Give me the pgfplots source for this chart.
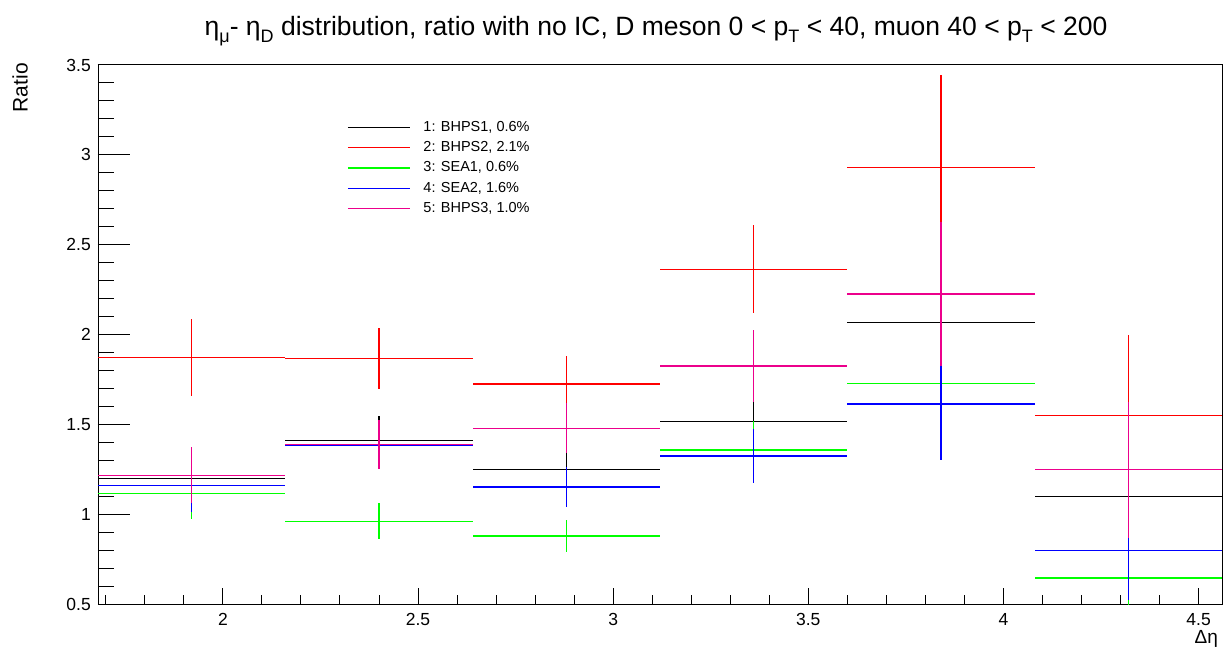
\documentclass[border=0pt]{standalone}
\usepackage{fontspec}
\setmainfont{Liberation Sans}
\usepackage{pgfplots}
\pgfplotsset{compat=1.18}
\usepackage{pgfplotstable}

% bin centre, ratio, half bin width, statistical error
\pgfplotstableread{
x    y     ex    ey
1.92 1.200 0.24 0.130
2.40 1.409 0.24 0.136
2.88 1.250 0.24 0.120
3.36 1.515 0.24 0.130
3.84 2.066 0.24 0.250
4.32 1.100 0.24 0.250
}\bhpsone
\pgfplotstableread{
x    y     ex    ey
1.92 1.871 0.24 0.215
2.40 1.867 0.24 0.170
2.88 1.724 0.24 0.156
3.36 2.363 0.24 0.245
3.84 2.930 0.24 0.514
4.32 1.550 0.24 0.447
}\bhpstwo
\pgfplotstableread{
x    y     ex    ey
1.92 1.116 0.24 0.143
2.40 0.960 0.24 0.100
2.88 0.878 0.24 0.090
3.36 1.357 0.24 0.163
3.84 1.728 0.24 0.250
4.32 0.645 0.24 0.200
}\seaone
\pgfplotstableread{
x    y     ex    ey
1.92 1.158 0.24 0.144
2.40 1.383 0.24 0.130
2.88 1.151 0.24 0.110
3.36 1.324 0.24 0.149
3.84 1.613 0.24 0.312
4.32 0.799 0.24 0.277
}\seatwo
\pgfplotstableread{
x    y     ex    ey
1.92 1.216 0.24 0.156
2.40 1.389 0.24 0.137
2.88 1.478 0.24 0.139
3.36 1.825 0.24 0.200
3.84 2.225 0.24 0.403
4.32 1.248 0.24 0.378
}\bhpsthree

\newcommand{\sub}[1]{\raisebox{-0.5ex}{\fontsize{18}{18}\selectfont #1}}

\pgfplotsset{
  histerr/.style={
    draw=none, mark=none, color=#1,
    error bars/.cd, x dir=both, x explicit, y dir=both, y explicit,
    error mark=none, error bar style={draw=#1, solid, line width=1.3pt}
  }
}

\begin{document}
\begin{tikzpicture}[x=1pt,y=1pt]
\useasboundingbox (-98,-47) rectangle (1127,604);

% frame, x ticks and the data
\begin{axis}[
  at={(0,0)}, anchor=south west,
  scale only axis, width=1124pt, height=539pt,
  xmin=1.68, xmax=4.56, ymin=0.5, ymax=3.5,
  axis line style={black, line width=1pt},
  tick align=inside,
  xtick={2,2.5,3,3.5,4,4.5},
  minor xtick={1.7,1.8,...,4.55},
  ytick=\empty,
  xtick pos=left,
  major tick length=16pt, minor tick length=9pt,
  tick style={black, line width=1pt},
  /pgf/number format/assume math mode=true,
  xticklabel style={inner sep=0pt, anchor=north, yshift=-9pt,
    font=\fontsize{17.5}{20}\selectfont},
  legend style={draw=none, fill=none,
    at={(rel axis cs:0.2215,0.898)}, anchor=north west,
    inner sep=0pt, row sep=6.4pt, column sep=13pt,
    nodes={inner sep=0pt, text height=11pt, text depth=3pt},
    font=\fontsize{14.5}{17}\selectfont},
  legend cell align=left,
]
\addplot[histerr=black]   table[x=x, y=y, x error=ex, y error=ey] {\bhpsone};
\addplot[histerr=red]     table[x=x, y=y, x error=ex, y error=ey] {\bhpstwo};
\addplot[histerr=green]   table[x=x, y=y, x error=ex, y error=ey] {\seaone};
\addplot[histerr=blue]    table[x=x, y=y, x error=ex, y error=ey] {\seatwo};
\addplot[histerr=magenta] table[x=x, y=y, x error=ex, y error=ey] {\bhpsthree};
% legend keys: plain line samples in the series colours
\pgfplotsset{legend image code/.code={\draw[line width=1.3pt, #1] (0pt,0pt) -- (62pt,0pt);}}
\addlegendimage{black}   \addlegendentry{1: BHPS1, 0.6\%}
\addlegendimage{red}     \addlegendentry{2: BHPS2, 2.1\%}
\addlegendimage{green}   \addlegendentry{3: SEA1, 0.6\%}
\addlegendimage{blue}    \addlegendentry{4: SEA2, 1.6\%}
\addlegendimage{magenta} \addlegendentry{5: BHPS3, 1.0\%}
\end{axis}

% y ticks, which are longer than the x ticks
\begin{axis}[
  at={(0,0)}, anchor=south west,
  scale only axis, width=1124pt, height=539pt,
  xmin=1.68, xmax=4.56, ymin=0.5, ymax=3.5,
  axis line style={draw=none},
  tick align=inside,
  xtick=\empty,
  ytick={0.5,1,...,3.5},
  minor ytick={0.6,0.7,...,3.45},
  ytick pos=left,
  major tick length=32pt, minor tick length=16pt,
  tick style={black, line width=1pt},
  /pgf/number format/assume math mode=true,
  yticklabel style={inner sep=0pt, anchor=east, xshift=-7pt,
    font=\fontsize{17.5}{20}\selectfont},
]
\end{axis}

% titles
\node[anchor=base, inner sep=0pt, font=\fontsize{26.5}{30}\selectfont] at (558,568)
  {η\sub{μ}- η\sub{D} distribution, ratio with no IC, D meson 0 < p\sub{T} < 40, muon 40 < p\sub{T} < 200};
\node[rotate=90, anchor=south east, inner sep=0pt, font=\fontsize{21}{24}\selectfont] at (-70,541) {Ratio};
\node[anchor=base east, inner sep=0pt, font=\fontsize{19}{22}\selectfont] at (1120,-39) {Δη};
\end{tikzpicture}
\end{document}
